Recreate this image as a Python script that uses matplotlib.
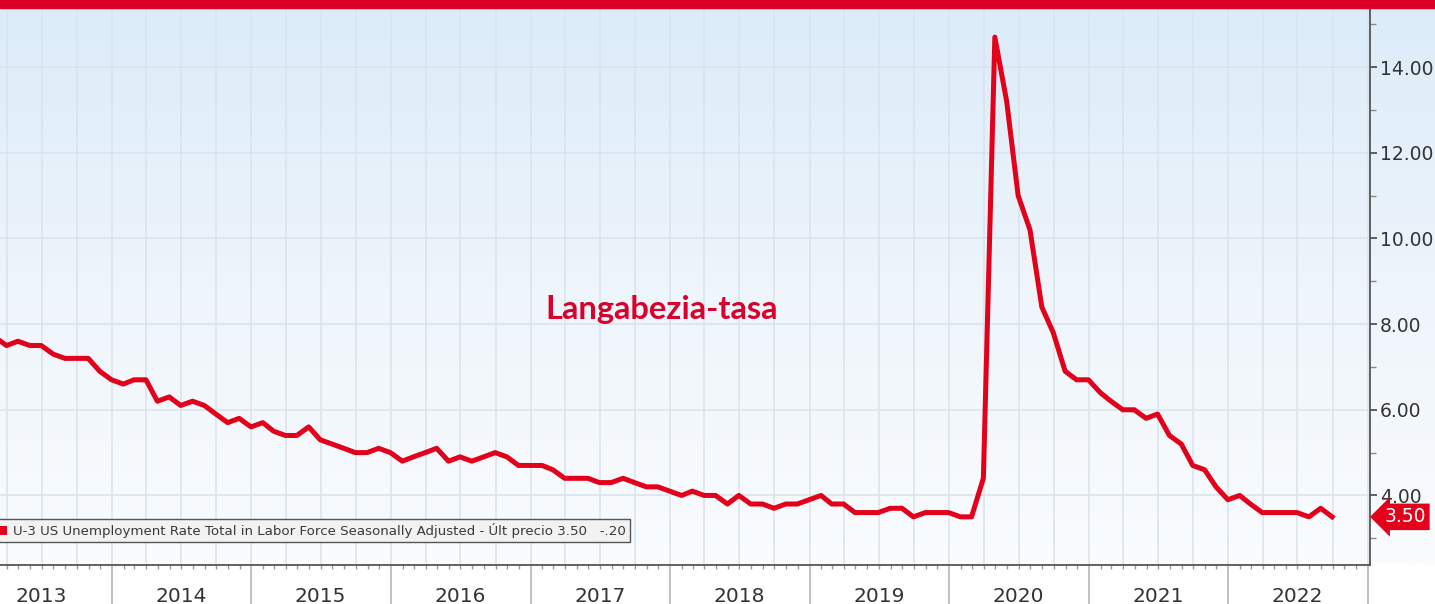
import numpy as np
import pandas as pd
import matplotlib
matplotlib.use("Agg")
import matplotlib.pyplot as plt
import matplotlib.dates as mdates
import matplotlib.transforms as mtransforms
from matplotlib.patches import Rectangle, Patch
from matplotlib.colors import LinearSegmentedColormap

# monthly U-3 rate, Jan 2013 .. Sep 2022 (plotted at month end)
months = pd.date_range("2013-01-31", "2022-09-30", freq="ME")
rate = [
    8.0, 7.7, 7.5, 7.6, 7.5, 7.5, 7.3, 7.2, 7.2, 7.2, 6.9, 6.7,   # 2013
    6.6, 6.7, 6.7, 6.2, 6.3, 6.1, 6.2, 6.1, 5.9, 5.7, 5.8, 5.6,   # 2014
    5.7, 5.5, 5.4, 5.4, 5.6, 5.3, 5.2, 5.1, 5.0, 5.0, 5.1, 5.0,   # 2015
    4.8, 4.9, 5.0, 5.1, 4.8, 4.9, 4.8, 4.9, 5.0, 4.9, 4.7, 4.7,   # 2016
    4.7, 4.6, 4.4, 4.4, 4.4, 4.3, 4.3, 4.4, 4.3, 4.2, 4.2, 4.1,   # 2017
    4.0, 4.1, 4.0, 4.0, 3.8, 4.0, 3.8, 3.8, 3.7, 3.8, 3.8, 3.9,   # 2018
    4.0, 3.8, 3.8, 3.6, 3.6, 3.6, 3.7, 3.7, 3.5, 3.6, 3.6, 3.6,   # 2019
    3.5, 3.5, 4.4, 14.7, 13.2, 11.0, 10.2, 8.4, 7.8, 6.9, 6.7, 6.7,  # 2020
    6.4, 6.2, 6.0, 6.0, 5.8, 5.9, 5.4, 5.2, 4.7, 4.6, 4.2, 3.9,   # 2021
    4.0, 3.8, 3.6, 3.6, 3.6, 3.6, 3.5, 3.7, 3.5,                  # 2022
]
years = ["2013", "2014", "2015", "2016", "2017", "2018", "2019", "2020", "2021", "2022"]
y_ticks = [4, 6, 8, 10, 12, 14]
last_value = rate[-1]
last_change = rate[-1] - rate[-2]

series_name = "U-3 US Unemployment Rate Total in Labor Force Seasonally Adjusted"
title = "Langabezia-tasa"

RED = "#e2001a"
GRID = "#d9e3ec"

fig = plt.figure(figsize=(14.35, 6.04), dpi=100)
ax_rect = [0, 39 / 604, 1370 / 1435, 557 / 604]

# light blue gradient behind the plot
bg = fig.add_axes([0, 39 / 604, 1, 557 / 604])
cmap = LinearSegmentedColormap.from_list("bg", ["#fafcfe", "#eef5fb", "#dcecf9"])
grad = np.linspace(0, 1, 256).reshape(-1, 1)
bg.imshow(grad, aspect="auto", cmap=cmap, origin="lower", extent=[0, 1, 0, 1])
bg.axis("off")

ax = fig.add_axes(ax_rect)
ax.patch.set_alpha(0)

# quarterly vertical grid
for q in pd.date_range("2013-01-01", "2023-01-01", freq="QS"):
    ax.axvline(q, color=GRID, lw=1.1, zorder=1)

ax.plot(months, rate, color=RED, lw=3.6, solid_joinstyle="round", zorder=3)

ax.set_xlim(pd.Timestamp("2013-03-14"), pd.Timestamp("2023-01-07"))
ax.set_ylim(2.376, 15.38)

# y axis on the right
ax.yaxis.tick_right()
ax.set_yticks(y_ticks)
ax.set_yticklabels([f"{v:.2f}" for v in y_ticks])
ax.set_yticks(np.arange(3, 16, 1), minor=True)
ax.tick_params(axis="y", which="major", length=5, width=1.2, color="#444",
               labelsize=13.5, labelcolor="#333", pad=2)
ax.tick_params(axis="y", which="minor", length=4, width=1, color="#888")
ax.grid(axis="y", which="major", color=GRID, lw=1.1, zorder=1)

# x axis: year separators + monthly ticks, year labels centered mid-year
ax.xaxis.set_major_locator(mdates.YearLocator())
ax.xaxis.set_minor_locator(mdates.MonthLocator())
ax.xaxis.set_major_formatter(plt.NullFormatter())
ax.tick_params(axis="x", which="major", length=29, width=1.2, color="#b5b5b5")
ax.tick_params(axis="x", which="minor", length=3, width=1, color="#999")
xtrans = ax.get_xaxis_transform()
for y in years:
    ax.text(pd.Timestamp(f"{y}-07-01"), -0.0557, y, transform=xtrans,
            ha="center", va="center", fontsize=14.5, color="#333")

for s in ["left", "top"]:
    ax.spines[s].set_visible(False)
for s in ["right", "bottom"]:
    ax.spines[s].set_color("#555")
    ax.spines[s].set_linewidth(1.3)

# last value tag
ytrans = mtransforms.blended_transform_factory(ax.transAxes, ax.transData)
ax.text(1.0105, last_value, f"{last_value:.2f}", transform=ytrans,
        ha="left", va="center", fontsize=13.5, color="white", clip_on=False,
        bbox=dict(boxstyle="larrow,pad=0.2", fc=RED, ec="none"))

# legend box
leg_label = f"{series_name} - Últ precio {last_value:.2f}   {last_change:+.2f}".replace("-0.", "-.")
leg = ax.legend([Patch(facecolor=RED)], [leg_label], loc="lower left",
                bbox_to_anchor=(-0.0035, 0.041), borderaxespad=0,
                fancybox=False, edgecolor="#555", facecolor="#f2f2f2", framealpha=1,
                fontsize=9.6, handlelength=0.55, handleheight=0.7, handletextpad=0.5,
                borderpad=0.3, labelcolor="#3a3a3a")
leg.get_frame().set_linewidth(1)

fig.text(0.4613, 0.487, title, fontsize=23.5, fontweight="bold", color="#d9002b",
         family=["Lato", "DejaVu Sans"], ha="center", va="center")

# red band on top
fig.patches.append(Rectangle((0, 1 - 8 / 604), 1, 8 / 604, transform=fig.transFigure,
                             color="#dc0028", zorder=10))

fig.savefig("out.png", dpi=100)
